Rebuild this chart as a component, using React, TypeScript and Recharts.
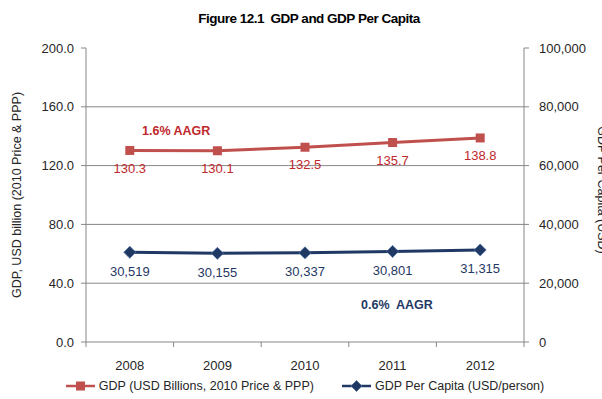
import React from "react";
import {
  LineChart,
  Line,
  XAxis,
  YAxis,
  ReferenceLine,
  LabelList,
  Legend,
} from "recharts";

// Figure 12.1 – GDP (left axis) and GDP per capita (right axis)
const years = ["2008", "2009", "2010", "2011", "2012"];
const gdp = [130.3, 130.1, 132.5, 135.7, 138.8];
const gdpPerCapita = [30519, 30155, 30337, 30801, 31315];

const leftTicks = [0, 40, 80, 120, 160, 200];
const rightTicks = [0, 20000, 40000, 60000, 80000, 100000];
const gridValues = [40, 80, 120, 160];

const RED = "#C0504D";
const RED_TEXT = "#C0282D";
const NAVY = "#1F3864";
const AXIS = "#878787";
const TEXT = "#262626";
const FONT = "'Liberation Sans', Arial, sans-serif";

const data = years.map((year, i) => ({
  year,
  gdp: gdp[i],
  perCapita: gdpPerCapita[i],
}));

// Excel puts the category ticks on the band edges, not under the labels
function YearTick(props: any) {
  const { x, y, payload, index, width, visibleTicksCount } = props;
  const band = width / visibleTicksCount;
  return (
    <g>
      <line x1={x - band / 2} y1={y} x2={x - band / 2} y2={y + 5} stroke={AXIS} />
      {index === visibleTicksCount - 1 && (
        <line x1={x + band / 2} y1={y} x2={x + band / 2} y2={y + 5} stroke={AXIS} />
      )}
      <text
        x={x}
        y={y + 28}
        textAnchor="middle"
        fontFamily={FONT}
        fontSize={13}
        fill={TEXT}
      >
        {payload.value}
      </text>
    </g>
  );
}

function SquareDot(props: any) {
  const { cx, cy } = props;
  return <rect x={cx - 4.5} y={cy - 4.5} width={9} height={9} fill={RED} />;
}

function DiamondDot(props: any) {
  const { cx, cy } = props;
  return (
    <path
      d={`M${cx},${cy - 6}L${cx + 6},${cy}L${cx},${cy + 6}L${cx - 6},${cy}Z`}
      fill={NAVY}
      stroke="#4F6FA0"
      strokeWidth={0.8}
    />
  );
}

function LegendContent() {
  const item = (color: string, marker: React.ReactNode, label: string) => (
    <div style={{ display: "flex", alignItems: "center", gap: 4 }}>
      <svg width={29} height={12}>
        <line x1={0} y1={6} x2={29} y2={6} stroke={color} strokeWidth={2.5} />
        {marker}
      </svg>
      <span>{label}</span>
    </div>
  );
  return (
    <div
      style={{
        display: "flex",
        justifyContent: "center",
        gap: 28,
        height: 26,
        alignItems: "center",
        fontFamily: FONT,
        fontSize: 12.5,
        color: TEXT,
        paddingLeft: 8,
      }}
    >
      {item(RED, <rect x={10} y={1.5} width={9} height={9} fill={RED} />, "GDP (USD Billions, 2010 Price & PPP)")}
      {item(
        NAVY,
        <path d="M14.5,0.5L20,6L14.5,11.5L9,6Z" fill={NAVY} stroke="#4F6FA0" strokeWidth={0.8} />,
        "GDP Per Capita (USD/person)"
      )}
    </div>
  );
}

export default function App() {
  return (
    <div
      style={{
        position: "absolute",
        left: 0,
        top: 0,
        width: 602,
        height: 399,
        overflow: "hidden",
        background: "#fff",
        fontFamily: FONT,
      }}
    >
      <div
        style={{
          position: "absolute",
          top: 11,
          width: 602,
          paddingLeft: 8,
          textAlign: "center",
          fontWeight: "bold",
          fontSize: 13.5,
          letterSpacing: -0.5,
          color: "#000",
        }}
      >
        Figure 12.1&nbsp;&nbsp;GDP and GDP Per Capita
      </div>

      <div
        style={{
          position: "absolute",
          left: 17,
          top: 195,
          transform: "translate(-50%, -50%) rotate(-90deg)",
          whiteSpace: "nowrap",
          fontSize: 12.5,
          color: TEXT,
        }}
      >
        GDP, USD billion (2010 Price &amp; PPP)
      </div>
      <div
        style={{
          position: "absolute",
          left: 602,
          top: 190,
          transform: "translate(-50%, -50%) rotate(90deg)",
          whiteSpace: "nowrap",
          fontSize: 12.5,
          color: TEXT,
        }}
      >
        GDP Per Capita (USD)
      </div>

      <div
        style={{
          position: "absolute",
          left: 142,
          top: 124,
          fontWeight: "bold",
          fontSize: 12.5,
          color: RED_TEXT,
        }}
      >
        1.6% AAGR
      </div>
      <div
        style={{
          position: "absolute",
          left: 361,
          top: 298,
          fontWeight: "bold",
          fontSize: 12.5,
          color: NAVY,
          whiteSpace: "pre",
        }}
      >
        0.6%  AAGR
      </div>

      <LineChart
        width={602}
        height={399}
        data={data}
        margin={{ top: 48, right: 0, bottom: 0, left: 0 }}
      >
        <XAxis
          dataKey="year"
          scale="band"
          height={31}
          stroke={AXIS}
          tickLine={false}
          tickSize={0}
          tickMargin={0}
          tick={<YearTick />}
          interval={0}
        />
        <YAxis
          yAxisId="left"
          orientation="left"
          width={86}
          domain={[0, 200]}
          ticks={leftTicks}
          interval={0}
          stroke={AXIS}
          tickSize={5}
          tickMargin={7}
          tick={{ fill: TEXT, fontSize: 13, fontFamily: FONT }}
          tickFormatter={(v: number) => v.toFixed(1)}
        />
        <YAxis
          yAxisId="right"
          orientation="right"
          width={78}
          domain={[0, 100000]}
          ticks={rightTicks}
          interval={0}
          stroke={AXIS}
          tickSize={5}
          tickMargin={10}
          tick={{ fill: TEXT, fontSize: 13, fontFamily: FONT, textAnchor: "start" }}
          tickFormatter={(v: number) => v.toLocaleString("en-US")}
        />
        {gridValues.map((v) => (
          <ReferenceLine key={v} yAxisId="left" y={v} stroke={AXIS} strokeWidth={1} />
        ))}
        <Legend verticalAlign="bottom" height={26} content={<LegendContent />} />
        <Line
          yAxisId="left"
          dataKey="gdp"
          stroke={RED}
          strokeWidth={3}
          dot={<SquareDot />}
          activeDot={false}
          isAnimationActive={false}
        >
          <LabelList
            dataKey="gdp"
            position="bottom"
            offset={13}
            formatter={(v: any) => Number(v).toFixed(1)}
            style={{ fill: RED_TEXT, fontSize: 13, fontFamily: FONT }}
          />
        </Line>
        <Line
          yAxisId="right"
          dataKey="perCapita"
          stroke={NAVY}
          strokeWidth={3}
          dot={<DiamondDot />}
          activeDot={false}
          isAnimationActive={false}
        >
          <LabelList
            dataKey="perCapita"
            position="bottom"
            offset={14}
            formatter={(v: any) => Number(v).toLocaleString("en-US")}
            style={{ fill: NAVY, fontSize: 13, fontFamily: FONT }}
          />
        </Line>
      </LineChart>
    </div>
  );
}
